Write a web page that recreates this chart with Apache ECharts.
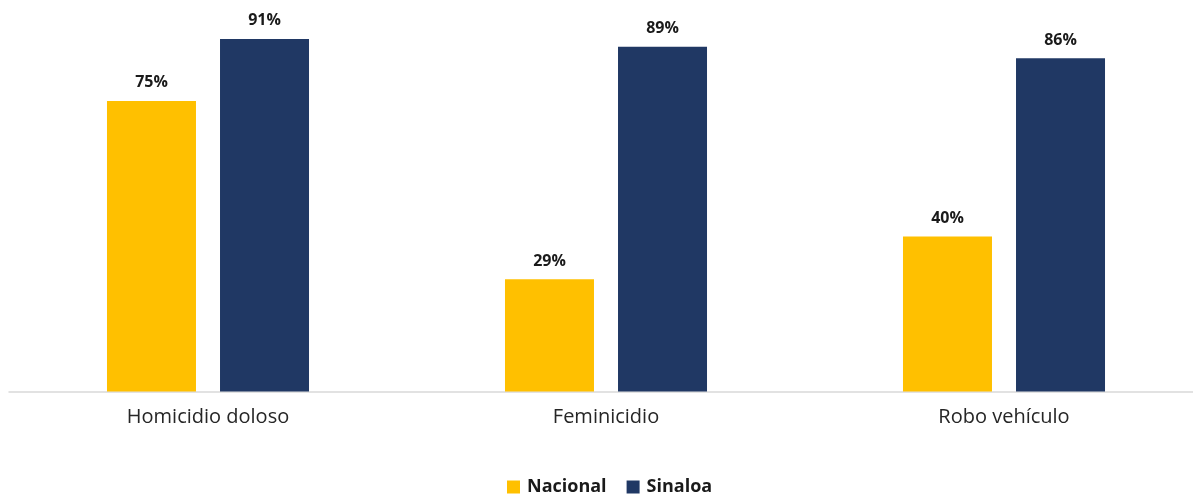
<!DOCTYPE html>
<html><head><meta charset="utf-8">
<script src="https://cdn.jsdelivr.net/npm/echarts@6/dist/echarts.min.js"></script>
<style>html,body{margin:0;padding:0;background:#fff;overflow:hidden}#c{width:1210px;height:495px}</style>
</head><body><div id="c"></div>
<script>
const categories = ['Homicidio doloso', 'Feminicidio', 'Robo vehículo'];
const nacional = [75, 29, 40];
const sinaloa = [91, 89, 86];
const seriesNames = ['Nacional', 'Sinaloa'];

const chart = echarts.init(document.getElementById('c'));
const font = '"Open Sans", Lato, sans-serif';
const lbl = {show: true, position: 'top', distance: 10, formatter: '{c}%', color: '#1a1a1a', fontFamily: font, fontWeight: 'bold', fontSize: 16};
chart.setOption({
  animation: false,
  grid: {left: 9, width: 1194, top: 4, bottom: 103.5, containLabel: false},
  legend: {
    bottom: -6, left: 502, itemWidth: 13, itemHeight: 13, itemGap: 20, icon: 'rect',
    textStyle: {fontFamily: font, fontWeight: 'bold', fontSize: 18, color: '#1a1a1a', padding: [0, 0, 0, 2]},
    data: seriesNames
  },
  xAxis: {
    type: 'category', data: categories,
    axisLine: {lineStyle: {color: '#d9d9d9', width: 1.5}},
    axisTick: {show: false},
    axisLabel: {fontFamily: font, fontSize: 20, color: '#262626', margin: 16}
  },
  yAxis: {type: 'value', min: 0, max: 100, show: false, splitLine: {show: false}},
  series: [
    {name: seriesNames[0], type: 'bar', data: nacional, barWidth: 89, barGap: '27%', itemStyle: {color: '#FFC000'}, label: lbl},
    {name: seriesNames[1], type: 'bar', data: sinaloa, barWidth: 89, itemStyle: {color: '#203864'}, label: lbl}
  ]
});
</script></body></html>
